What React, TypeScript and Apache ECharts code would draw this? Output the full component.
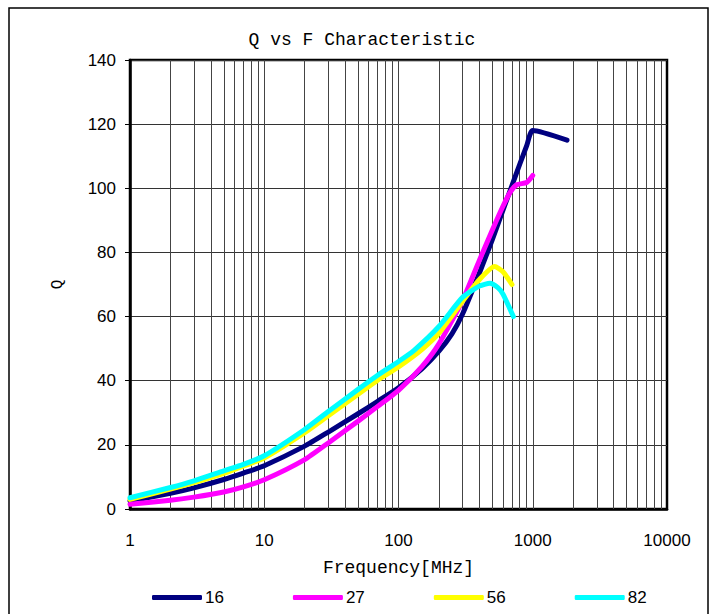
import React, { useEffect, useRef } from "react";
import * as echarts from "echarts";

const title = "Q vs F Characteristic";
const xName = "Frequency[MHz]";
const yName = "Q";
const seriesNames = ["16", "27", "56", "82"];
const seriesColors = ["#000080", "#FF00FF", "#FFFF00", "#00FFFF"];

const f16 = [1, 2, 3, 5, 7, 10, 20, 30, 50, 70, 100, 150, 200, 250, 300, 400, 500, 600, 700, 800, 900, 1000, 1800];
const q16 = [2.5, 4.9, 6.6, 9.2, 11.2, 13.5, 19.6, 24, 29.7, 33.6, 37.8, 43.8, 49.2, 54.6, 60.8, 73.5, 84, 93.2, 100.8, 107.5, 113.2, 118, 115];

const f27 = [1, 2, 3, 5, 7, 10, 20, 30, 50, 70, 100, 150, 200, 300, 400, 500, 600, 680, 760, 900, 1000];
const q27 = [1.5, 2.7, 3.7, 5.3, 6.9, 9.1, 15.4, 20.6, 27.4, 32, 37, 44.5, 51.5, 65, 77.5, 87, 94.4, 98.8, 101.1, 101.8, 104];

const f56 = [1, 2, 3, 5, 7, 10, 20, 30, 50, 70, 100, 150, 200, 300, 400, 520, 600, 700];
const q56 = [3, 6.2, 8.2, 11.1, 13.4, 15.9, 23.8, 29.1, 35.8, 40.2, 44.3, 49.8, 54.8, 64.8, 71.5, 75.6, 74, 70];

const f82 = [1, 2, 3, 5, 7, 10, 20, 30, 50, 70, 100, 130, 200, 300, 400, 480, 550, 600, 717];
const q82 = [3.5, 6.7, 8.8, 11.9, 13.9, 16.6, 24.8, 30.4, 37.3, 41.7, 46, 49.4, 56.9, 66, 69.5, 70.4, 69, 67, 60];

const decades = [1, 10, 100, 1000];
const multipliers = [1, 2, 3, 4, 5, 6, 7, 8, 9];

const freqs = [f16, f27, f56, f82];
const qs = [q16, q27, q56, q82];

export default function App() {
  const ref = useRef<HTMLDivElement>(null);
  useEffect(() => {
    if (!ref.current) return;
    const chart = echarts.init(ref.current, undefined, { renderer: "svg" });
    const gridX: number[] = [];
    decades.forEach((d) => multipliers.forEach((m) => {
      const v = d * m;
      if (v > 1 && v < 10000) gridX.push(v);
    }));
    const monoFont = "'Liberation Mono', 'DejaVu Sans Mono', monospace";
    const sansFont = "'Liberation Sans', Arial, sans-serif";
    const lineSeries = seriesNames.map((name, i) => ({
      name,
      type: "line",
      data: freqs[i].map((f, j) => [f, qs[i][j]]),
      smooth: 0.2,
      showSymbol: false,
      symbol: "none",
      z: 5,
      lineStyle: { color: seriesColors[i], width: 5, cap: "round", join: "round" },
      itemStyle: { color: seriesColors[i] },
    }));
    chart.setOption({
      animation: false,
      backgroundColor: "#ffffff",
      title: {
        text: title,
        left: 357,
        top: 26,
        textAlign: "center",
        textStyle: { fontFamily: monoFont, fontSize: 18, fontWeight: "normal", color: "#000" },
      },
      graphic: [
        {
          type: "rect",
          shape: { x: 9, y: 8, width: 699, height: 640 },
          style: { fill: "none", stroke: "#000", lineWidth: 1.5 },
          silent: true,
        },
      ],
      legend: {
        data: seriesNames,
        left: 147,
        top: 584,
        icon: "roundRect",
        itemWidth: 50,
        itemHeight: 5,
        itemGap: 69,
        textStyle: { fontFamily: sansFont, fontSize: 17, color: "#000", padding: [0, 0, 0, -2] },
      },
      grid: {
        left: 130,
        top: 60,
        right: 48,
        bottom: 105,
        show: true,
        borderColor: "#000",
        borderWidth: 2.5,
        backgroundColor: "transparent",
      },
      xAxis: {
        type: "log",
        logBase: 10,
        min: 1,
        max: 10000,
        name: xName,
        nameLocation: "middle",
        nameGap: 50,
        nameTextStyle: { fontFamily: monoFont, fontSize: 18, color: "#000" },
        axisLine: { show: true, onZero: false, lineStyle: { color: "#000", width: 2.5 } },
        axisTick: { show: false },
        splitLine: { show: false },
        axisLabel: {
          fontFamily: sansFont,
          fontSize: 17,
          color: "#000",
          margin: 23,
          formatter: (v: number) => String(Math.round(v)),
        },
      },
      yAxis: {
        type: "value",
        min: 0,
        max: 140,
        interval: 20,
        name: yName,
        nameLocation: "middle",
        nameGap: 64,
        nameRotate: 90,
        nameTextStyle: { fontFamily: monoFont, fontSize: 16, color: "#000" },
        axisLine: { show: true, lineStyle: { color: "#000", width: 2.5 } },
        axisTick: { show: true, length: 5, lineStyle: { color: "#000", width: 1 } },
        splitLine: { show: true, lineStyle: { color: "#333", width: 1 } },
        axisLabel: { fontFamily: sansFont, fontSize: 17, color: "#000", margin: 14 },
      },
      series: [
        {
          name: "grid",
          type: "line",
          data: [],
          z: 1,
          silent: true,
          markLine: {
            silent: true,
            symbol: "none",
            label: { show: false },
            lineStyle: { color: "#444", width: 1, type: "solid" },
            emphasis: { disabled: true },
            data: gridX.map((v) => ({ xAxis: v })),
          },
        },
        ...lineSeries,
      ],
    });
    return () => chart.dispose();
  }, []);
  return <div ref={ref} style={{ width: 715, height: 614, position: "absolute", left: 0, top: 0 }} />;
}
